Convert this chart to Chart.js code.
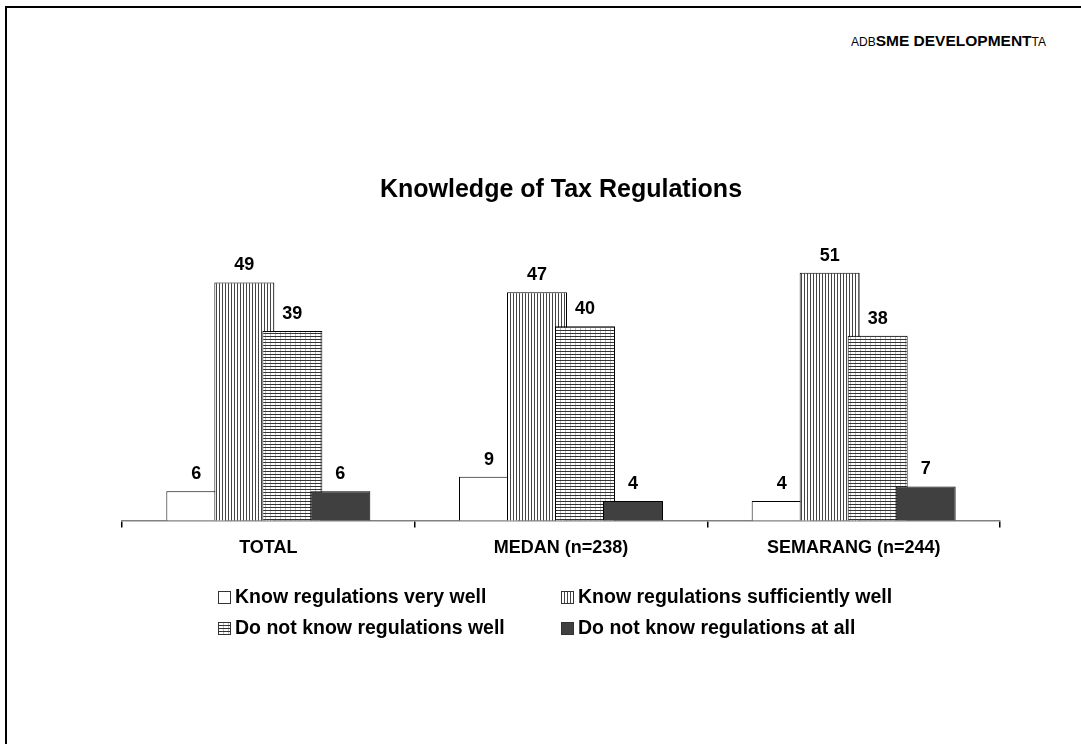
<!DOCTYPE html>
<html>
<head>
<meta charset="utf-8">
<script src="https://cdn.jsdelivr.net/npm/chart.js@4"></script>
<style>
  html, body { margin: 0; padding: 0; background: #fff; }
  body { width: 1081px; height: 744px; position: relative; overflow: hidden; font-family: "Liberation Sans", Arial, sans-serif; }
  #frame { position: absolute; left: 5px; top: 6px; right: -10px; bottom: -10px; border-left: 2px solid #000; border-top: 2px solid #000; }
  #header { position: absolute; left: 851px; top: 32px; font-size: 12px; color: #000; white-space: nowrap; }
  #header b { font-size: 15.5px; }
  #chart { position: absolute; left: 0; top: 0; }
  .legend-item { position: absolute; font-size: 19.5px; font-weight: bold; white-space: nowrap; line-height: 22px; }
  .legend-item canvas { vertical-align: -1px; margin-right: 4px; }
</style>
</head>
<body>
<div id="frame"></div>
<div id="header">ADB<b>SME DEVELOPMENT</b>TA</div>
<canvas id="chart" width="1081" height="744"></canvas>
<div id="legend"></div>
<script>
const categories = ['TOTAL', 'MEDAN (n=238)', 'SEMARANG (n=244)'];
const seriesNames = ['Know regulations very well', 'Know regulations sufficiently well', 'Do not know regulations well', 'Do not know regulations at all'];
const veryWell = [6, 9, 4];
const sufficientlyWell = [49, 47, 51];
const notWell = [39, 40, 38];
const notAtAll = [6, 4, 7];

const FONT = '"Liberation Sans", Arial, sans-serif';

// hatch fills, built on a small tile canvas
const makePattern = (type) => {
    const c = document.createElement('canvas');
    const g = c.getContext('2d');
    if (type === 'vertical') {
        c.width = 3; c.height = 4;
        g.fillStyle = '#fff'; g.fillRect(0, 0, 3, 4);
        g.fillStyle = '#454545'; g.fillRect(0, 0, 1, 4);
    } else if (type === 'horizontal') {
        c.width = 5; c.height = 3;
        g.fillStyle = '#fff'; g.fillRect(0, 0, 5, 3);
        g.fillStyle = '#bdbdbd'; g.fillRect(0, 0, 1, 3);
        g.fillStyle = '#333'; g.fillRect(0, 0, 5, 1);
    }
    return g.createPattern(c, 'repeat');
};

const fills = ['#ffffff', makePattern('vertical'), makePattern('horizontal'), '#404040'];
const values = [veryWell, sufficientlyWell, notWell, notAtAll];

// later series overlap earlier ones, so draw them left to right
const overlapOrder = {
    id: 'overlapOrder',
    beforeDatasetsDraw(chart) {
        const metas = chart.getSortedVisibleDatasetMetas();
        metas.forEach(m => m.controller.draw());
        const ctx = chart.ctx;
        ctx.save();
        ctx.font = 'bold 18px ' + FONT;
        ctx.fillStyle = '#000';
        ctx.textAlign = 'center';
        ctx.textBaseline = 'alphabetic';
        metas.forEach(m => {
            m.data.forEach((bar, i) => {
                ctx.fillText(String(chart.data.datasets[m.index].data[i]), bar.x, bar.y - 12);
            });
        });
        ctx.restore();
        return false;
    }
};

const ctx = document.getElementById('chart').getContext('2d');
new Chart(ctx, {
    type: 'bar',
    data: {
        labels: categories,
        datasets: values.map((v, i) => ({
            label: seriesNames[i],
            data: v,
            backgroundColor: fills[i],
            borderColor: '#000',
            borderWidth: 1,
            barPercentage: 1.25,
            categoryPercentage: 0.656
        }))
    },
    options: {
        responsive: false,
        devicePixelRatio: 1,
        animation: false,
        layout: { padding: { left: 122, right: 81, top: 170, bottom: 175 } },
        plugins: {
            legend: { display: false },
            tooltip: { enabled: false },
            title: {
                display: true,
                text: 'Knowledge of Tax Regulations',
                color: '#000',
                font: { family: FONT, size: 25, weight: 'bold' },
                padding: { top: 5, bottom: 24 }
            }
        },
        scales: {
            x: {
                grid: { display: true, drawOnChartArea: false, drawTicks: true, tickLength: 7, color: '#000', lineWidth: 1.5 },
                border: { display: true, color: '#808080', width: 1.5 },
                ticks: { color: '#000', padding: 10, font: { family: FONT, size: 18, weight: 'bold' } }
            },
            y: { display: false, min: 0, max: 60 }
        }
    },
    plugins: [overlapOrder]
});

// two-column legend below the axis
const legendPos = [[218, 585], [561, 585], [218, 616], [561, 616]];
const legendEl = document.getElementById('legend');
seriesNames.forEach((name, i) => {
    const item = document.createElement('div');
    item.className = 'legend-item';
    item.style.left = legendPos[i][0] + 'px';
    item.style.top = legendPos[i][1] + 'px';
    const sw = document.createElement('canvas');
    sw.width = 13; sw.height = 13;
    const g = sw.getContext('2d');
    g.fillStyle = fills[i];
    g.fillRect(0, 0, 13, 13);
    g.strokeStyle = '#333';
    g.lineWidth = 1;
    g.strokeRect(0.5, 0.5, 12, 12);
    item.appendChild(sw);
    item.appendChild(document.createTextNode(name));
    legendEl.appendChild(item);
});
</script>
</body>
</html>
